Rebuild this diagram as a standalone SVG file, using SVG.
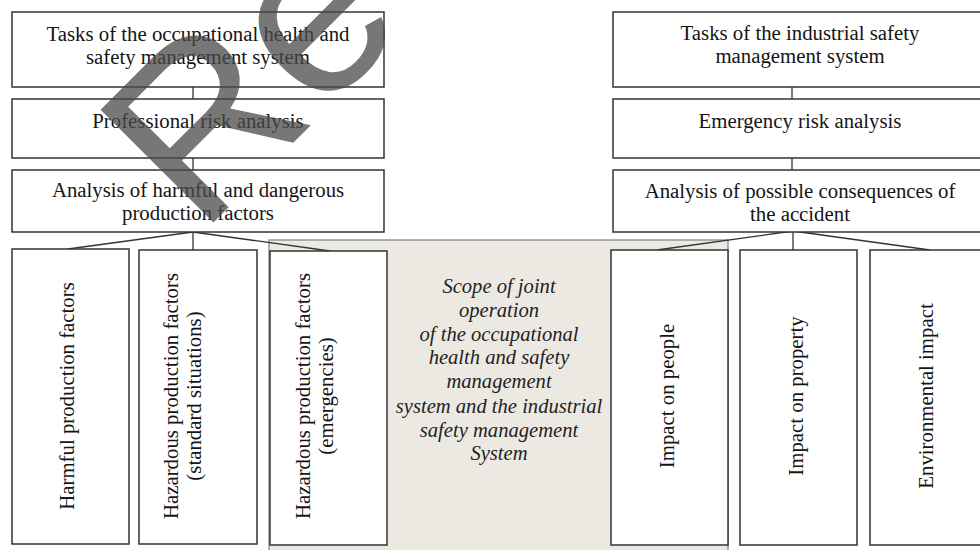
<svg xmlns="http://www.w3.org/2000/svg" width="980" height="550" viewBox="0 0 980 550">
<style>
.box{fill:#fff;stroke:#333;stroke-width:1.5}
.t{font-family:"Liberation Serif","Times New Roman",serif;font-size:20.8px;fill:#151515;text-anchor:middle}
.it{font-family:"Liberation Serif","Times New Roman",serif;font-size:20.6px;font-style:italic;fill:#222;text-anchor:middle}
.c{stroke:#333;stroke-width:1.3;fill:none}
.wm{font-family:"Liberation Sans",Arial,sans-serif;font-size:232px;fill:#4a4a4a;opacity:0.75}
</style>
<rect width="980" height="550" fill="#fff"/>
<g id="joint-scope">
<rect x="269" y="240" width="459" height="320" fill="#ece9e2" stroke="#8a8a8a" stroke-width="1.3"/>
<text class="it"><tspan x="499" y="293">Scope of joint</tspan><tspan x="499" y="317">operation</tspan><tspan x="499" y="341">of the occupational</tspan><tspan x="499" y="364">health and safety</tspan><tspan x="499" y="388">management</tspan><tspan x="499" y="413">system and the industrial</tspan><tspan x="499" y="437">safety management</tspan><tspan x="499" y="460">System</tspan></text>
</g>
<g id="connectors">
<line class="c" x1="193" y1="87" x2="193" y2="99"/>
<line class="c" x1="193" y1="158" x2="193" y2="170"/>
<line class="c" x1="792" y1="87" x2="792" y2="99"/>
<line class="c" x1="792" y1="158" x2="792" y2="170"/>
<line class="c" x1="193" y1="232" x2="68" y2="249"/>
<line class="c" x1="193" y1="232" x2="193" y2="250"/>
<line class="c" x1="193" y1="232" x2="330" y2="251"/>
<line class="c" x1="793" y1="231" x2="657" y2="250"/>
<line class="c" x1="793" y1="232" x2="793" y2="250"/>
<line class="c" x1="793" y1="231" x2="930" y2="250"/>
</g>
<g id="ohs-tasks"><rect class="box" x="12" y="12" width="372" height="75"/><text class="t"><tspan x="198" y="41">Tasks of the occupational health and</tspan><tspan x="198" y="64">safety management system</tspan></text></g>
<g id="prof-risk"><rect class="box" x="12" y="99" width="372" height="59"/><text class="t" x="198" y="128">Professional risk analysis</text></g>
<g id="harmful-analysis"><rect class="box" x="12" y="170" width="372" height="62"/><text class="t"><tspan x="198" y="197">Analysis of harmful and dangerous</tspan><tspan x="198" y="220">production factors</tspan></text></g>
<g id="is-tasks"><rect class="box" x="613" y="12" width="374" height="75"/><text class="t"><tspan x="800" y="40">Tasks of the industrial safety</tspan><tspan x="800" y="63">management system</tspan></text></g>
<g id="emerg-risk"><rect class="box" x="613" y="99" width="374" height="59"/><text class="t" x="800" y="128">Emergency risk analysis</text></g>
<g id="consequences"><rect class="box" x="613" y="170" width="374" height="62"/><text class="t"><tspan x="800" y="198">Analysis of possible consequences of</tspan><tspan x="800" y="221">the accident</tspan></text></g>
<g id="harmful"><rect class="box" x="12" y="249" width="117" height="295"/><text class="t" transform="rotate(-90 74 396)" x="74" y="396">Harmful production factors</text></g>
<g id="hazard-std"><rect class="box" x="139" y="250" width="118" height="294"/><text class="t" transform="rotate(-90 178 396)"><tspan x="178" y="396">Hazardous production factors</tspan><tspan x="178" y="419">(standard situations)</tspan></text></g>
<g id="hazard-emerg"><rect class="box" x="270" y="251" width="117" height="294"/><text class="t" transform="rotate(-90 310 396)"><tspan x="310" y="396">Hazardous production factors</tspan><tspan x="310" y="419">(emergencies)</tspan></text></g>
<g id="people"><rect class="box" x="611" y="250" width="117" height="295"/><text class="t" transform="rotate(-90 674 396)" x="674" y="396">Impact on people</text></g>
<g id="property"><rect class="box" x="740" y="250" width="117" height="295"/><text class="t" transform="rotate(-90 803 396)" x="803" y="396">Impact on property</text></g>
<g id="environment"><rect class="box" x="870" y="250" width="120" height="295"/><text class="t" transform="rotate(-90 933 396)" x="933" y="396">Environmental impact</text></g>
<text class="wm" x="200" y="236" transform="rotate(-45 200 236)">Re</text>
</svg>
